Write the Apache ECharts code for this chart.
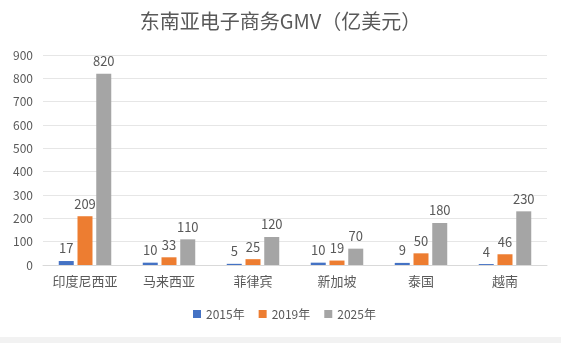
<!DOCTYPE html>
<html><head><meta charset="utf-8">
<script src="https://cdn.jsdelivr.net/npm/echarts@6/dist/echarts.min.js"></script>
<style>html,body{margin:0;padding:0;background:#fff;}#c{width:561px;height:343px;}
#strip{position:absolute;left:0;top:337px;width:561px;height:6px;background:#f2f2f2;}</style>
</head><body><div id="c"></div><div id="strip"></div>
<script>
const categories = ['印度尼西亚','马来西亚','菲律宾','新加坡','泰国','越南'];
const seriesNames = ['2015年','2019年','2025年'];
const v2015 = [17,10,5,10,9,4];
const v2019 = [209,33,25,19,50,46];
const v2025 = [820,110,120,70,180,230];
const yTicks = {min:0,max:900,interval:100};
const colors = ['#4472C4','#ED7D31','#A5A5A5'];
const font = '"Noto Sans CJK SC", sans-serif';
const chart = echarts.init(document.getElementById('c'));
const mk = (name, data, color) => ({
  name, type:'bar', data, barWidth:15, barGap:'25%',
  itemStyle:{color},
  label:{show:true, position:'top', color:'#595959', fontSize:13, fontFamily:font, distance:6}
});
chart.setOption({
  animation:false,
  backgroundColor:'#fff',
  title:{text:'东南亚电子商务GMV（亿美元）', left:'center', top:6,
    textStyle:{color:'#595959', fontSize:20, fontWeight:'normal', fontFamily:font}},
  legend:{bottom:18, left:188, itemWidth:8, itemHeight:8, itemGap:14, icon:'rect',
    textStyle:{color:'#595959', fontSize:12, fontFamily:font}, data:seriesNames},
  grid:{left:43, right:14, top:55, bottom:78},
  xAxis:{type:'category', data:categories,
    axisLine:{lineStyle:{color:'#d9d9d9'}}, axisTick:{show:false},
    axisLabel:{interval:0, color:'#595959', fontSize:13, fontFamily:font, margin:10}},
  yAxis:{type:'value', min:yTicks.min, max:yTicks.max, interval:yTicks.interval,
    axisLine:{show:false}, axisTick:{show:false},
    splitLine:{lineStyle:{color:'#e6e6e6'}},
    axisLabel:{color:'#595959', fontSize:12, fontFamily:font, margin:10}},
  series:[mk(seriesNames[0], v2015, colors[0]), mk(seriesNames[1], v2019, colors[1]), mk(seriesNames[2], v2025, colors[2])]
});
</script></body></html>
